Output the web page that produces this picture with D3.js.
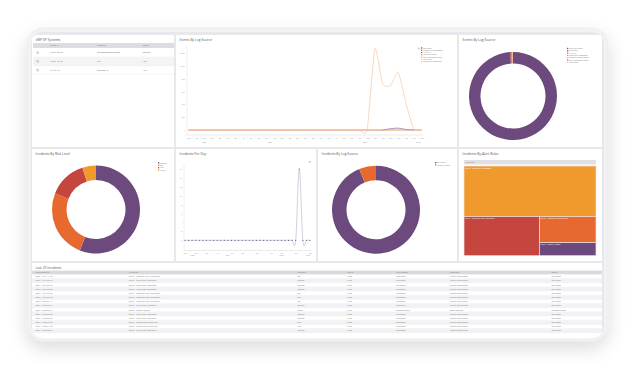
<!DOCTYPE html>
<html><head><meta charset="utf-8">
<script src="https://cdn.jsdelivr.net/npm/d3@7"></script>
<style>html,body{margin:0;padding:0;background:#fff;overflow:hidden}svg{display:block;font-family:"Open Sans","Noto Sans",sans-serif}</style>
</head><body><svg id="c" width="635" height="369"></svg>
<script>
// ---------------- DATA ----------------
const systemsHeaders = ["Device IP", "System ID", "Status"];
const systemsIp = ["172.31.28.249", "172.31.16.131", "10.1.21.10"];
const systemsId = ["Sun OpenIndiana SunOS", "T13", "SysName 10"];
const systemsStatus = ["OSSTPB", "189", "170"];

const eventsXLabels = ["Sep","Oct","Nov","Dec","Jan","Feb","Mar","Apr","May","Jun","Jul","Aug","Sep","Oct","Nov","Dec","Jan","Feb","Mar","Apr","May","Jun","Jul","Aug","Sep","Oct","Nov","Dec","Jan","Feb","Mar"];
const eventsYears = ["2020", "2021", "2022", "2023"];
const eventsYearTick = [2, 10.5, 22.7, 29.6];
const eventsYTicks = [0, 200, 400, 600, 800, 1000, 1200];
const eventsSeriesNames = ["BRP Report","Endpoint Detection Report","Azure AD","Cloud Trail Report","Entra Assignment Change","Kerb Report","Group Policy Component"];
const eventsBRP      = [0,0,0,0,0,0,0,0,0,0,0,0,0,0,0,0,0,0,0,0,0,0,0,0,0,0,20,28,8,0,0];
const eventsEndpoint = [0,0,0,0,0,0,0,0,0,0,0,0,0,0,0,0,0,0,0,0,0,0,0,0,0,0,0,0,0,0,0];
const eventsAzure    = [0,0,0,0,0,0,0,0,0,0,0,0,0,0,0,0,0,0,0,0,0,0,0,0,0,0,0,0,0,0,0];
const eventsCloud    = [0,0,0,0,0,0,0,0,0,0,0,0,0,0,0,0,0,0,0,0,0,0,0,0,0,0,0,0,0,0,0];
const eventsEntra    = [0,0,0,0,0,0,0,0,0,0,0,0,0,0,0,0,0,0,0,0,0,0,0,0,0,0,0,0,0,0,0];
const eventsKerb     = [0,0,0,0,0,0,0,0,0,0,0,0,0,0,0,0,0,0,0,0,0,0,0,0,0,0,0,0,0,0,0];
const eventsGroup    = [0,0,0,0,0,0,0,0,0,0,0,0,0,0,0,0,0,0,0,0,0,0,0,0,1270,720,690,900,420,10,0];

const srcDonutNames = ["Login Data Report","BRP Report","Azure AD","Group Policy Component","Endpoint Detection Report","Entra Assignment Change","Kerb Report"];
const srcDonutValues = [4300, 14, 18, 4, 3, 2, 2];

const riskNames = ["medium", "low", "high", "critical"];
const riskValues = [56, 25, 14, 5];

const perDayXLabels = ["Sep","Oct","Jan","Apr","Jul","Oct","Jan","Apr","Jul","Oct","Jan"];
const perDayXTick = [0, 3, 6, 9, 13, 16, 20, 24, 27, 31, 35];
const perDayYears = ["2020", "2021", "2022", "2023"];
const perDayYearTick = [2.2, 12, 27, 34.5];
const perDayYTicks = [0, 2, 4, 6, 8, 10, 12, 14, 16];
const perDayValues = [0,0,0,0,0,0,0,0,0,0,0,0,0,0,0,0,0,0,0,0,0,0,0,0,0,0,0,0,0,0,0,0,16,0,0,0];

const logSrcNames = ["BRP Report", "FortiGate Firewall"];
const logSrcValues = [15, 1];

const ruleNames = ["BRP SP - Critical Role Assignment","BRP SP - Temporary Role Assignment","BRP SP - Changed By External User","BRP SP - Disable Auditing"];
const ruleValues = [9, 4, 2, 1];

const incHeaders = ["Incident Date Ut...","Alert Rules","Risk Level","Alert ID","Alert Category","Attack Type","Source"];
const incDates = ["2023-11-23 11:17:23","2023-11-23 10:50:13","2023-11-23 10:50:13","2023-11-23 10:35:58","2023-11-23 10:10:59","2023-11-23 10:07:59","2023-11-23 09:54:14","2023-11-23 09:20:14","2023-11-23 09:09:17","2023-11-23 08:58:53","2023-11-23 08:55:53","2023-11-23 08:46:59","2023-11-23 08:44:53","2023-11-23 08:32:04"];
const incRules = ["BRP SP - Temporary Role Assignment","BRP SP - Critical Role Assignment","BRP SP - Critical Role Assignment","BRP SP - Critical Role Assignment","BRP SP - Temporary Role Assignment","BRP SP - Temporary Role Assignment","BRP SP - Temporary Role Assignment","BRP SP - Critical Role Assignment","BRP SP - Disable Auditing","BRP SP - Critical Role Assignment","BRP SP - Critical Role Assignment","BRP SP - Changed By External User","BRP SP - Changed By External User","BRP SP - Critical Role Assignment"];
const incRisk = ["low","medium","medium","medium","low","low","low","medium","critical","medium","medium","high","high","medium"];
const incAlertId = ["T1098","T1098","T1098","T1098","T1098","T1098","T1098","T1098","T1562","T1098","T1098","T1098","T1098","T1098"];
const incCategory = ["Persistence","Persistence","Persistence","Persistence","Persistence","Persistence","Persistence","Persistence","Defense Evasion","Persistence","Persistence","Persistence","Persistence","Persistence"];
const incAttack = ["Account Manipulation","Account Manipulation","Account Manipulation","Account Manipulation","Account Manipulation","Account Manipulation","Account Manipulation","Account Manipulation","Impair Defenses","Account Manipulation","Account Manipulation","Account Manipulation","Account Manipulation","Account Manipulation"];
const incSource = ["BRP Report","BRP Report","BRP Report","BRP Report","BRP Report","BRP Report","BRP Report","BRP Report","FortiGate Firewall","BRP Report","BRP Report","BRP Report","BRP Report","BRP Report"];

// ---------------- STYLE ----------------
const PURPLE = "#6d4a7e", ORANGE = "#e8692f", RED = "#c4463f", GOLD = "#f09a2e", PEACH = "#f6c6a3";
const TXT = "#666", LIGHT = "#999";

const svg = d3.select("#c");
const defs = svg.append("defs");
const f = defs.append("filter").attr("id","sh").attr("x","-10%").attr("y","-10%").attr("width","120%").attr("height","130%");
f.append("feDropShadow").attr("dx",0).attr("dy",7).attr("stdDeviation",9).attr("flood-color","#000").attr("flood-opacity",0.14);
defs.append("clipPath").attr("id","inner").append("rect").attr("x",31).attr("y",32).attr("width",573).attr("height",306).attr("rx",12);

// frame
svg.append("rect").attr("x",27).attr("y",28).attr("width",581).attr("height",313).attr("rx",17)
  .attr("fill","#f2f2f5").attr("stroke","#e6e6ea").attr("stroke-width",0.6).attr("filter","url(#sh)");
const g = svg.append("g").attr("clip-path","url(#inner)");
g.append("rect").attr("x",31).attr("y",32).attr("width",573).attr("height",306).attr("fill","#e8e8ec");

function panel(x, y, w, h, title) {
  const p = g.append("g");
  p.append("rect").attr("x",x).attr("y",y).attr("width",w).attr("height",h).attr("fill","#fff");
  p.append("text").attr("x",x+3.5).attr("y",y+6).attr("font-size",3.3).attr("fill","#555").text(title);
  return p;
}
function tiny(sel, x, y, t, size, fill, anchor) {
  return sel.append("text").attr("x",x).attr("y",y).attr("font-size",size||2.3).attr("fill",fill||TXT)
    .attr("text-anchor",anchor||"start").text(t);
}

// ---------- Panel 1: systems table ----------
const p1 = panel(32, 35, 142, 112, "xMP SP Systems");
p1.append("rect").attr("x",33).attr("y",43).attr("width",141).attr("height",5).attr("fill","#dcdce2");
const sysCols = [50, 97, 143];
systemsHeaders.forEach((h,i)=>tiny(p1, sysCols[i], 46.4, h, 2, "#777"));
systemsIp.forEach((ip,i)=>{
  const y0 = 48.3 + 8.7*i;
  if (i%2===1) p1.append("rect").attr("x",33).attr("y",y0).attr("width",141).attr("height",8.7).attr("fill","#f4f4f7");
  p1.append("line").attr("x1",33).attr("x2",174).attr("y1",y0+8.7).attr("y2",y0+8.7).attr("stroke","#ececf0").attr("stroke-width",0.4);
  const ic = p1.append("g").attr("transform",`translate(37.5,${y0+4.2})`);
  ic.append("circle").attr("r",0.9).attr("fill","none").attr("stroke","#888").attr("stroke-width",0.4);
  ic.append("line").attr("x1",0.6).attr("y1",0.6).attr("x2",1.5).attr("y2",1.5).attr("stroke","#888").attr("stroke-width",0.4);
  tiny(p1, sysCols[0], y0+5, ip, 2);
  tiny(p1, sysCols[1], y0+5, systemsId[i], 2);
  tiny(p1, sysCols[2], y0+5, systemsStatus[i], 2);
});

// ---------- Panel 2: Events by log source (line) ----------
const p2 = panel(176, 35, 281, 112, "Events By Log Source");
const xE = d3.scaleLinear().domain([0, 30]).range([188.5, 421.5]);
const yE = d3.scaleLinear().domain([0, 1200]).range([130, 53]);
p2.append("line").attr("x1",187).attr("x2",187).attr("y1",46).attr("y2",135).attr("stroke","#d5d5da").attr("stroke-width",0.4);
const yAx = p2.append("g").attr("transform","translate(187,0)").call(d3.axisLeft(yE).tickValues(eventsYTicks).tickSize(0).tickPadding(2));
yAx.select(".domain").remove();
yAx.selectAll("text").attr("font-size",2).attr("fill",LIGHT).attr("font-family","inherit");
const xAxE = p2.append("g").attr("transform","translate(0,135)").call(d3.axisBottom(xE).tickValues(d3.range(eventsXLabels.length)).tickFormat(i=>eventsXLabels[i]).tickSize(0).tickPadding(2.2));
xAxE.select(".domain").attr("stroke","#d5d5da").attr("stroke-width",0.5).attr("d",`M186,0H423`);
xAxE.selectAll("text").attr("font-size",1.9).attr("fill",LIGHT).attr("font-family","inherit");
xAxE.selectAll(".tick").append("line").attr("x1",3.9).attr("x2",3.9).attr("y1",0.3).attr("y2",4).attr("stroke","#e2e2e6").attr("stroke-width",0.3);
eventsYears.forEach((t,i)=>tiny(p2, xE(eventsYearTick[i]), 142.5, t, 1.9, LIGHT, "middle"));
// draw order: BRP first, flat series, then the large peach series on top
const eventsSeries = [eventsBRP, eventsEndpoint, eventsAzure, eventsCloud, eventsEntra, eventsKerb, eventsGroup];
const eventsColors = ["#8f7aa8", "#f0a37a", "#ee9f86", "#f5bb7c", "#f3b183", "#f9dcc6", PEACH];
const lineE = d3.line().x((d,i)=>xE(i)).y(d=>yE(d)).curve(d3.curveCardinal.tension(0.45));
eventsSeries.forEach((s,k)=>{
  p2.append("path").attr("d",lineE(s)).attr("fill","none").attr("stroke",eventsColors[k]).attr("stroke-width",k===6?0.7:0.5);
});
// re-draw the purple bump on top where it rises above zero
p2.append("path").attr("d",lineE.defined((d,i)=>i>=25 && i<=29)(eventsBRP)).attr("fill","none").attr("stroke","#8f7aa8").attr("stroke-width",0.5);
lineE.defined(()=>true);
// legend
p2.append("rect").attr("x",418).attr("y",47.6).attr("width",1.8).attr("height",1.8).attr("fill","#ccc");
const legColE = [PURPLE, ORANGE, RED, GOLD, "#f3b183", "#f9dcc6", PEACH];
eventsSeriesNames.forEach((n,i)=>{
  const y = 48.5 + i*2.3;
  p2.append("rect").attr("x",421).attr("y",y-1.2).attr("width",1.3).attr("height",1.3).attr("fill",legColE[i]);
  tiny(p2, 423.2, y, n, 1.6, "#777");
});

// ---------- Panel 3: Events by log source (donut) ----------
const p3 = panel(459, 35, 143, 112, "Events By Log Source");
const pie = d3.pie().sort(null).value(d=>d);
const srcCols = [PURPLE, RED, ORANGE, GOLD, "#f3b183", "#b07b9b", PEACH];
const arc3 = d3.arc().innerRadius(32.5).outerRadius(44);
p3.append("g").attr("transform","translate(513,96)").selectAll("path").data(pie(srcDonutValues)).join("path")
  .attr("d",arc3).attr("fill",(d,i)=>srcCols[i]);
srcDonutNames.forEach((n,i)=>{
  const y = 49 + i*2.3;
  p3.append("rect").attr("x",567).attr("y",y-1.2).attr("width",1.3).attr("height",1.3).attr("fill",srcCols[i]);
  tiny(p3, 569.2, y, n, 1.6, "#777");
});

// ---------- Panel 4: Incidents by risk level ----------
const p4 = panel(32, 149, 142, 112, "Incidents By Risk Level");
const riskCols = [PURPLE, ORANGE, RED, GOLD];
const arcR = d3.arc().innerRadius(29.5).outerRadius(44);
p4.append("g").attr("transform","translate(96,209.5)").selectAll("path").data(pie(riskValues)).join("path")
  .attr("d",arcR).attr("fill",(d,i)=>riskCols[i]);
riskNames.forEach((n,i)=>{
  const y = 163.5 + i*2.4;
  p4.append("rect").attr("x",158).attr("y",y-1.2).attr("width",1.3).attr("height",1.3).attr("fill",riskCols[i]);
  tiny(p4, 160.2, y, n, 1.7, "#777");
});

// ---------- Panel 5: Incidents per day ----------
const p5 = panel(176, 149, 140, 112, "Incidents Per Day");
const xD = d3.scaleLinear().domain([0, perDayValues.length-1]).range([185, 310]);
const yD = d3.scaleLinear().domain([0, 16]).range([240.3, 169]);
p5.append("line").attr("x1",184).attr("x2",184).attr("y1",164).attr("y2",250.5).attr("stroke","#d5d5da").attr("stroke-width",0.4);
const yAxD = p5.append("g").attr("transform","translate(184,0)").call(d3.axisLeft(yD).tickValues(perDayYTicks).tickSize(0).tickPadding(2));
yAxD.select(".domain").remove();
yAxD.selectAll("text").attr("font-size",1.9).attr("fill",LIGHT).attr("font-family","inherit");
const xAxD = p5.append("g").attr("transform","translate(0,250.5)").call(d3.axisBottom(xD).tickValues(perDayXTick).tickFormat((d,i)=>perDayXLabels[i]).tickSize(0).tickPadding(2));
xAxD.select(".domain").attr("stroke","#d5d5da").attr("stroke-width",0.5).attr("d","M184,0H311");
xAxD.selectAll("text").attr("font-size",1.8).attr("fill",LIGHT).attr("font-family","inherit");
perDayYears.forEach((t,i)=>tiny(p5, xD(perDayYearTick[i]), 256, t, 1.8, LIGHT, "middle"));
const lineD = d3.line().x((d,i)=>xD(i)).y(d=>yD(d)).curve(d3.curveCardinal.tension(0));
p5.append("path").attr("d",lineD(perDayValues)).attr("fill","none").attr("stroke","#a99fbf").attr("stroke-width",0.5);
p5.append("g").selectAll("circle").data(perDayValues).join("circle")
  .attr("cx",(d,i)=>xD(i)).attr("cy",d=>yD(d)).attr("r",0.55).attr("fill","#4b3a6e");
p5.append("rect").attr("x",309).attr("y",161).attr("width",1.8).attr("height",1.8).attr("fill","#ccc");

// ---------- Panel 6: Incidents by log source ----------
const p6 = panel(318, 149, 139, 112, "Incidents By Log Source");
const logCols = [PURPLE, ORANGE];
p6.append("g").attr("transform","translate(376,209.7)").selectAll("path").data(pie(logSrcValues)).join("path")
  .attr("d",arcR).attr("fill",(d,i)=>logCols[i]);
logSrcNames.forEach((n,i)=>{
  const y = 163.2 + i*2.3;
  p6.append("rect").attr("x",435).attr("y",y-1.2).attr("width",1.3).attr("height",1.3).attr("fill",logCols[i]);
  tiny(p6, 437.2, y, n, 1.6, "#777");
});

// ---------- Panel 7: Incidents by alert rules (treemap) ----------
const p7 = panel(459, 149, 143, 112, "Incidents By Alert Rules");
p7.append("rect").attr("x",464).attr("y",160).attr("width",132).attr("height",4.4).attr("fill","#dfdfe4");
tiny(p7, 465.5, 163, "Alert Rules", 1.7, "#777");
function nest(i){ return i === ruleNames.length-1 ? {name:ruleNames[i], value:ruleValues[i], idx:i}
  : {children:[{name:ruleNames[i], value:ruleValues[i], idx:i}, nest(i+1)]}; }
const root = d3.hierarchy(nest(0)).sum(d=>d.value || 0);
const tileAlt = (node, x0, y0, x1, y1) => (node.depth & 1 ? d3.treemapDice : d3.treemapSlice)(node, x0, y0, x1, y1);
d3.treemap().tile(tileAlt).size([132, 89.7])(root);
const ruleCols = [GOLD, RED, ORANGE, PURPLE];
const cells = p7.append("g").attr("transform","translate(464,166)").selectAll("g").data(root.leaves()).join("g");
cells.append("rect").attr("x",d=>d.x0).attr("y",d=>d.y0).attr("width",d=>d.x1-d.x0).attr("height",d=>d.y1-d.y0)
  .attr("fill",d=>ruleCols[d.data.idx]).attr("stroke","#f6e2d6").attr("stroke-width",0.7);
cells.append("text").attr("x",d=>d.x0+1.3).attr("y",d=>d.y0+2.8).attr("font-size",1.7).attr("fill","#fff")
  .text(d=>d.data.name);

// ---------- Panel 8: last 20 incidents table ----------
const p8 = panel(32, 263, 570, 75, "Last 20 Incidents");
p8.append("rect").attr("x",32).attr("y",270.6).attr("width",570).attr("height",3.8).attr("fill","#d9d9df");
const incColX = [35.5, 128.8, 297.5, 347, 396, 449.5, 551.5];
incHeaders.forEach((h,i)=>tiny(p8, incColX[i], 273.3, h, 1.8, "#777"));
const incCols = [incDates, incRules, incRisk, incAlertId, incCategory, incAttack, incSource];
incDates.forEach((d,r)=>{
  const y0 = 274.4 + r*4.16;
  if (r%2===1) p8.append("rect").attr("x",32).attr("y",y0).attr("width",570).attr("height",4.16).attr("fill","#f2f2f6");
  p8.append("line").attr("x1",32).attr("x2",602).attr("y1",y0+4.16).attr("y2",y0+4.16).attr("stroke","#e6e6eb").attr("stroke-width",0.3);
  incCols.forEach((col,c)=>tiny(p8, incColX[c], y0+2.9, col[r], 1.8, "#777"));
});
</script>
</body></html>
